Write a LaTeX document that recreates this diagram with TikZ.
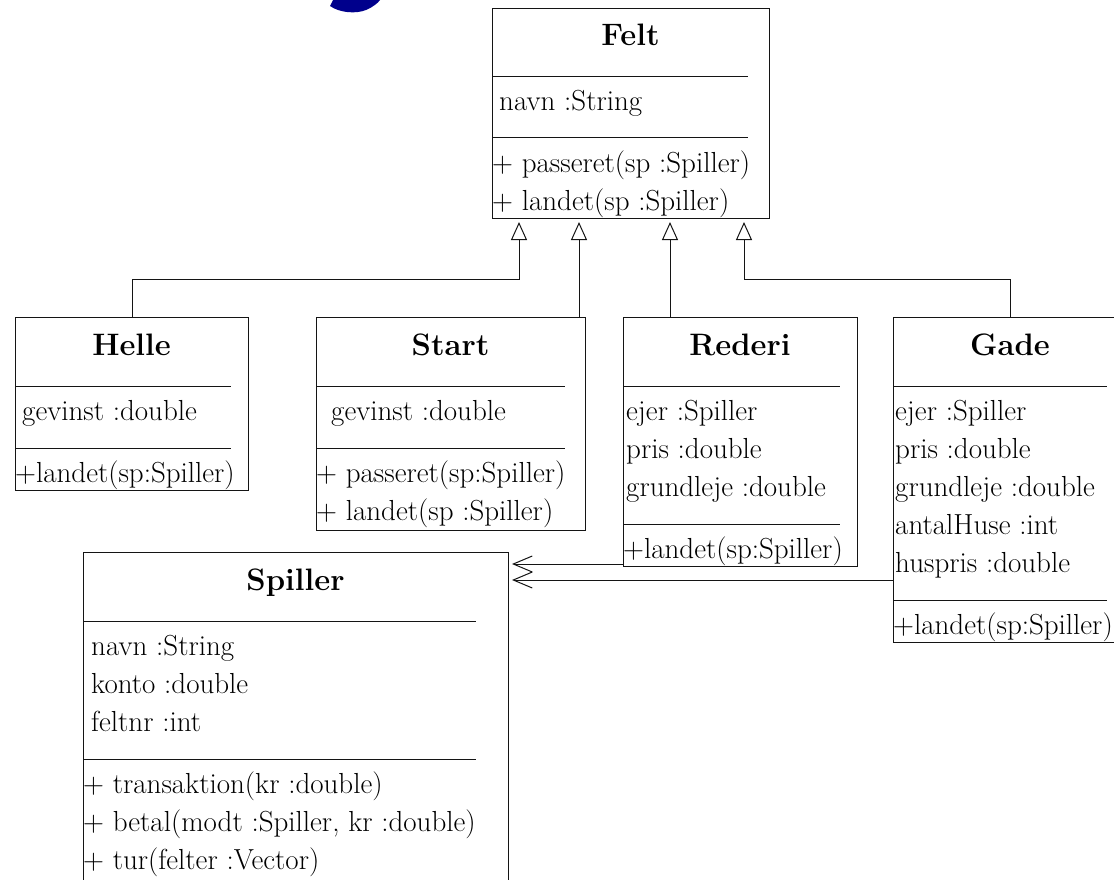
\documentclass[tikz,border=0pt]{standalone}
\usetikzlibrary{arrows.meta,calc}
\definecolor{blobblue}{RGB}{0,0,140}
\definecolor{ink}{RGB}{20,20,20}
\tikzset{
  cls/.style={draw=ink, line width=1pt, rectangle, inner sep=0pt, anchor=north west},
  sep/.style={draw=ink, line width=1pt},
  ttl/.style={anchor=base, inner sep=0pt, font=\fontsize{31}{37}\selectfont\bfseries},
  txt/.style={anchor=base west, inner sep=0pt, font=\fontsize{29}{35}\selectfont},
  inh/.style={draw=ink, line width=1pt, -{Triangle[open, length=18pt, width=16pt]}, shorten >=3pt},
  dep/.style={draw=ink, line width=1pt, -{Straight Barb[length=19pt, width=16pt]}},
}
\begin{document}
\begin{tikzpicture}[x=1pt,y=-1pt]
\useasboundingbox (0,0) rectangle (1114,879);
% blue fragment
\fill[blobblue] (330,6) .. controls (340,13) and (356,14) .. (366,10) .. controls (373,7) and (378,3) .. (380,0) -- (333,0) -- cycle;

% Felt
\node[cls, minimum width=277pt, minimum height=210pt] (felt) at (492,8) {};
\node[ttl] (feltT) at (630.5,45) {Felt};
\draw[sep] (492,76) -- (748,76);
\node[txt] (feltA1) at (499,110) {navn :String};
\draw[sep] (492,137) -- (748,137);
\node[txt] (feltM1) at (492,172) {+ passeret(sp :Spiller)};
\node[txt] (feltM2) at (492,210) {+ landet(sp :Spiller)};

% Helle
\node[cls, minimum width=233pt, minimum height=173pt] (helle) at (15,317) {};
\node[ttl] (helleT) at (131.5,355) {Helle};
\draw[sep] (15,386) -- (231,386);
\node[txt] (helleA1) at (22,420) {gevinst :double};
\draw[sep] (15,448) -- (231,448);
\node[txt] (helleM1) at (15,482) {+landet(sp:Spiller)};

% Start
\node[cls, minimum width=269pt, minimum height=213pt] (start) at (316,317) {};
\node[ttl] (startT) at (450.5,355) {Start};
\draw[sep] (316,386) -- (565,386);
\node[txt] (startA1) at (331,420) {gevinst :double};
\draw[sep] (316,448) -- (565,448);
\node[txt] (startM1) at (316,482) {+ passeret(sp:Spiller)};
\node[txt] (startM2) at (316,520) {+ landet(sp :Spiller)};

% Rederi
\node[cls, minimum width=234pt, minimum height=249pt] (rederi) at (623,317) {};
\node[ttl] (rederiT) at (740,355) {Rederi};
\draw[sep] (623,386) -- (840,386);
\node[txt] (rederiA1) at (626,420) {ejer :Spiller};
\node[txt] (rederiA2) at (626,458) {pris :double};
\node[txt] (rederiA3) at (626,496) {grundleje :double};
\draw[sep] (623,524) -- (840,524);
\node[txt] (rederiM1) at (623,558) {+landet(sp:Spiller)};

% Gade
\node[cls, minimum width=234pt, minimum height=325pt] (gade) at (893,317) {};
\node[ttl] (gadeT) at (1010,355) {Gade};
\draw[sep] (893,386) -- (1107,386);
\node[txt] (gadeA1) at (895,420) {ejer :Spiller};
\node[txt] (gadeA2) at (895,458) {pris :double};
\node[txt] (gadeA3) at (895,496) {grundleje :double};
\node[txt] (gadeA4) at (895,534) {antalHuse :int};
\node[txt] (gadeA5) at (895,572) {huspris :double};
\draw[sep] (893,600) -- (1107,600);
\node[txt] (gadeM1) at (893,634) {+landet(sp:Spiller)};

% Spiller
\node[cls, minimum width=425pt, minimum height=340pt] (spiller) at (83,552) {};
\node[ttl] (spillerT) at (295.5,590) {Spiller};
\draw[sep] (83,621) -- (476,621);
\node[txt] (spillerA1) at (91,655) {navn :String};
\node[txt] (spillerA2) at (91,693) {konto :double};
\node[txt] (spillerA3) at (91,731) {feltnr :int};
\draw[sep] (83,759) -- (476,759);
\node[txt] (spillerM1) at (83,793) {+ transaktion(kr :double)};
\node[txt] (spillerM2) at (83,831) {+ betal(modt :Spiller, kr :double)};
\node[txt] (spillerM3) at (83,869) {+ tur(felter :Vector)};

% inheritance
\coordinate (t1) at ($(felt.south west)+(27,0)$);
\coordinate (t2) at ($(felt.south west)+(87,0)$);
\coordinate (t3) at ($(felt.south west)+(178,0)$);
\coordinate (t4) at ($(felt.south west)+(252,0)$);
\draw[inh] (helle.north) |- ($(t1)+(0,60)$) -- (t1);
\draw[inh] (start.north -| t2) -- (t2);
\draw[inh] (rederi.north -| t3) -- (t3);
\draw[inh] (gade.north) |- ($(t4)+(0,60)$) -- (t4);

% dependencies
\coordinate (d1) at ($(rederi.south west)+(0,-3)$);
\coordinate (d2) at ($(gade.north west)+(0,263)$);
\draw[dep] (d1) -- ($(spiller.east |- d1)+(3,0)$);
\draw[dep] (d2) -- ($(spiller.east |- d2)+(3,0)$);
\end{tikzpicture}
\end{document}
